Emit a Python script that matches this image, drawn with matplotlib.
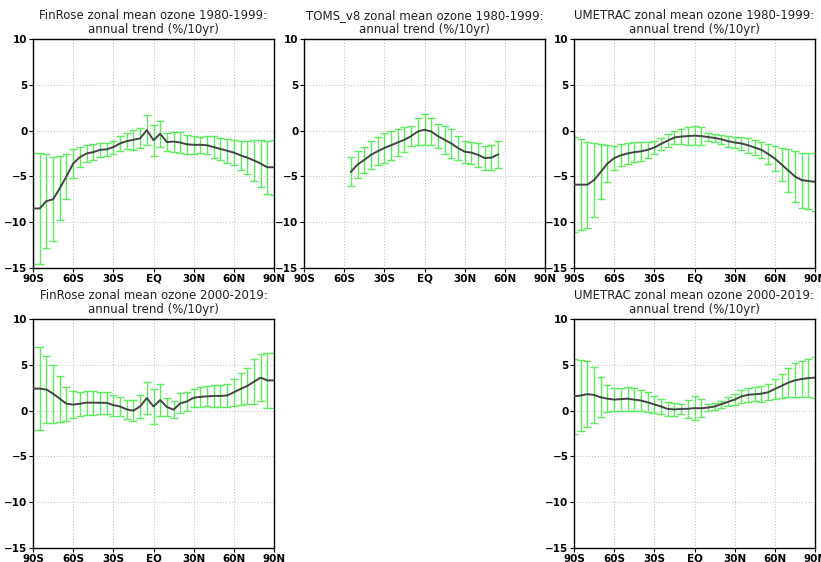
import numpy as np
import matplotlib
matplotlib.use("Agg")
import matplotlib.pyplot as plt

# latitude grid (5 deg) and tick labels
lat = np.arange(-90, 95, 5)
lat_toms = np.arange(-55, 60, 5)
xtick_pos = [-90, -60, -30, 0, 30, 60, 90]
xtick_lab = ["90S", "60S", "30S", "EQ", "30N", "60N", "90N"]
ytick_pos = [-15, -10, -5, 0, 5, 10]

# FinRose 1980-1999: trend and error half-width (%/10yr)
fin80_val = [-8.5, -8.5, -7.7, -7.5, -6.3, -5.0, -3.6, -2.9, -2.5, -2.35, -2.1, -2.05, -1.8,
             -1.4, -1.15, -1.0, -0.85, 0.05, -1.05, -0.35, -1.25, -1.2, -1.3, -1.5, -1.55,
             -1.55, -1.6, -1.8, -2.0, -2.2, -2.4, -2.7, -2.95, -3.25, -3.6, -4.0, -4.0]
fin80_err = [6.1, 6.1, 5.1, 4.6, 3.5, 2.5, 1.6, 1.1, 0.9, 0.9, 0.8, 0.75, 0.7,
             0.8, 0.9, 1.1, 1.1, 1.6, 1.7, 1.4, 1.0, 1.1, 1.1, 1.0, 1.0,
             0.9, 1.0, 1.2, 1.2, 1.3, 1.4, 1.6, 1.8, 2.2, 2.6, 2.9, 3.0]

# TOMS_v8 1980-1999 (55S-55N only)
toms80_val = [-4.5, -3.7, -3.2, -2.65, -2.25, -1.9, -1.6, -1.3, -1.0, -0.6, -0.1, 0.1,
              -0.1, -0.6, -1.0, -1.4, -1.9, -2.3, -2.4, -2.65, -3.0, -2.95, -2.6]
toms80_err = [1.6, 1.5, 1.45, 1.5, 1.55, 1.6, 1.6, 1.45, 1.35, 1.05, 1.45, 1.7,
              1.5, 1.35, 1.5, 1.6, 1.35, 1.2, 1.2, 1.35, 1.3, 1.4, 1.5]

# UMETRAC 1980-1999
ume80_val = [-5.9, -5.9, -5.9, -5.4, -4.5, -3.6, -3.0, -2.7, -2.5, -2.35, -2.27, -2.1, -1.85,
             -1.45, -1.1, -0.75, -0.65, -0.6, -0.55, -0.6, -0.7, -0.8, -0.95, -1.15, -1.3,
             -1.4, -1.6, -1.85, -2.1, -2.55, -3.05, -3.7, -4.35, -5.0, -5.4, -5.5, -5.6]
ume80_err = [5.2, 5.0, 4.7, 4.0, 3.0, 2.0, 1.35, 1.2, 1.1, 1.1, 1.0, 0.9, 0.75,
             0.65, 0.7, 0.7, 0.85, 0.95, 1.0, 0.95, 0.4, 0.45, 0.5, 0.6, 0.65,
             0.7, 0.8, 0.85, 0.85, 1.1, 1.4, 1.85, 2.3, 2.8, 3.0, 3.1, 3.2]

# FinRose 2000-2019
fin00_val = [2.4, 2.4, 2.3, 1.85, 1.3, 0.75, 0.65, 0.75, 0.87, 0.87, 0.85, 0.85, 0.6,
             0.45, 0.13, 0.0, 0.45, 1.37, 0.45, 1.15, 0.4, 0.1, 0.8, 1.0, 1.4,
             1.5, 1.55, 1.6, 1.6, 1.65, 2.0, 2.36, 2.7, 3.15, 3.6, 3.3, 3.3]
fin00_err = [4.5, 4.5, 3.7, 3.15, 2.5, 1.85, 1.45, 1.3, 1.3, 1.3, 1.2, 1.2, 1.15,
             1.0, 1.0, 1.16, 1.27, 1.7, 1.9, 1.7, 1.0, 0.9, 1.1, 1.0, 0.96,
             1.1, 1.1, 1.2, 1.2, 1.3, 1.45, 1.7, 2.0, 2.45, 2.6, 3.0, 3.0]

# UMETRAC 2000-2019
ume00_val = [1.55, 1.65, 1.8, 1.7, 1.45, 1.3, 1.2, 1.25, 1.3, 1.2, 1.1, 0.9, 0.67,
             0.45, 0.18, 0.13, 0.18, 0.2, 0.27, 0.25, 0.33, 0.45, 0.7, 0.95, 1.2,
             1.55, 1.72, 1.78, 1.85, 2.0, 2.36, 2.7, 3.05, 3.3, 3.45, 3.55, 3.6]
ume00_err = [4.1, 3.9, 3.6, 3.05, 2.2, 1.5, 1.27, 1.25, 1.3, 1.27, 1.15, 1.1, 0.97,
             0.8, 0.73, 0.67, 0.55, 1.0, 1.3, 1.0, 0.4, 0.37, 0.4, 0.5, 0.6,
             0.67, 0.73, 0.77, 0.87, 0.87, 1.1, 1.3, 1.6, 1.85, 2.0, 2.1, 2.2]

panels = [
    # (left, bottom) in pixels, title, x, values, errors
    ((33, 294), "FinRose zonal mean ozone 1980-1999:", lat, fin80_val, fin80_err),
    ((304, 294), "TOMS_v8 zonal mean ozone 1980-1999:", lat_toms, toms80_val, toms80_err),
    ((574, 294), "UMETRAC zonal mean ozone 1980-1999:", lat, ume80_val, ume80_err),
    ((33, 14), "FinRose zonal mean ozone 2000-2019:", lat, fin00_val, fin00_err),
    ((574, 14), "UMETRAC zonal mean ozone 2000-2019:", lat, ume00_val, ume00_err),
]

W, H = 821, 562
fig = plt.figure(figsize=(W / 100, H / 100), dpi=100)
aw, ah = 241, 229

for (px, py), title, x, val, err in panels:
    ax = fig.add_axes([px / W, py / H, aw / W, ah / H])
    ax.errorbar(x, val, yerr=err, fmt="none", ecolor="#5cec5c", elinewidth=1.0,
                capsize=3, capthick=1.0, zorder=2)
    ax.plot(x, val, color="#444444", linewidth=1.4, zorder=3)
    ax.set_xlim(-90, 90)
    ax.set_ylim(-15, 10)
    ax.set_xticks(xtick_pos)
    ax.set_xticklabels(xtick_lab)
    ax.set_yticks(ytick_pos)
    ax.grid(True, color="#bbbbbb", linestyle=(0, (1, 2)), linewidth=0.7)
    ax.tick_params(direction="out", length=3, width=0.8, pad=1, labelsize=7.5)
    for lab in ax.get_xticklabels() + ax.get_yticklabels():
        lab.set_fontweight("bold")
    for s in ax.spines.values():
        s.set_linewidth(1.0)
    ax.set_title(title + "\nannual trend (%/10yr)", fontsize=8.5, pad=4, linespacing=1.1,
                 color="#222222")

fig.savefig("out.png", dpi=100)
